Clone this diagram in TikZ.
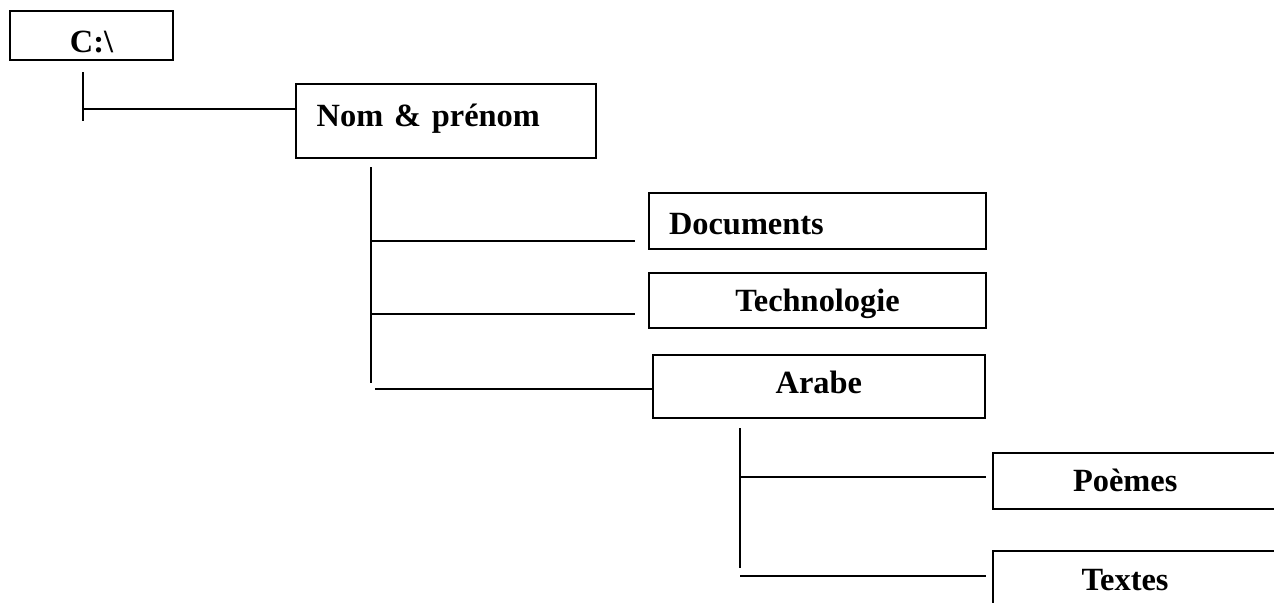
\documentclass[tikz,border=0pt]{standalone}
\usepackage{fontspec}
\setmainfont{Liberation Serif}
\begin{document}
\begin{tikzpicture}[x=0.5pt,y=-0.5pt,
  line width=1pt,
  box/.style={draw, rectangle, line width=1pt, inner ysep=2pt,
    font=\fontsize{16.2}{19}\selectfont\bfseries, text height=11pt, text depth=0pt},
  conn/.style={line width=1pt}]
\useasboundingbox (0,0) rectangle (1274,602);
\clip (0,0) rectangle (1274,602);
% boxes
\node[box, minimum width=81.5pt, minimum height=24.65pt, inner xsep=0pt] (root) at (91.5,35.3) {\raisebox{-3pt}{C:\textbackslash}};
\node[box, minimum height=37pt, inner xsep=10.5pt, text width=129pt, align=left] (nom) at (445.7,121) {\raisebox{3pt}{Nom \& prénom}};
\node[box, minimum height=28pt, inner xsep=10pt, text width=148.5pt, align=left] (doc) at (817.5,221) {\raisebox{-1pt}{Documents}};
\node[box, minimum width=168.5pt, minimum height=27.65pt] (tech) at (817.5,300.4) {Technologie};
\node[box, minimum width=166.2pt, minimum height=31.5pt] (arabe) at (818.9,386.5) {\raisebox{2pt}{Arabe}};
\node[box, minimum height=28.15pt, inner xsep=40.15pt, text width=73.35pt, align=left] (poemes) at (1146.35,480.85) {Poèmes};
\node[box, minimum height=28.15pt, inner xsep=44.5pt, text width=64.8pt, align=left] (textes) at (1146.35,579) {Textes};
% trunk from C:\
\coordinate (t1a) at (82.7,72);
\coordinate (t1b) at (82.7,121);
\coordinate (h1) at (82.7,109);
\draw[conn] (t1a) -- (t1b);
\draw[conn] (h1) -- (h1 -| nom.west);
% trunk from Nom & prenom
\coordinate (t2a) at (370.7,167);
\coordinate (t2b) at (370.7,383);
\coordinate (h2a) at (370.7,240.7);
\coordinate (e2a) at (635,240.7);
\coordinate (h2b) at (370.7,313.5);
\coordinate (e2b) at (635,313.5);
\coordinate (h2c) at (375,389);
\draw[conn] (t2a) -- (t2b);
\draw[conn] (h2a) -- (e2a);
\draw[conn] (h2b) -- (e2b);
\draw[conn] (h2c) -- (h2c -| arabe.west);
% trunk from Arabe
\coordinate (t3a) at (740,428);
\coordinate (t3b) at (740,568);
\coordinate (h3a) at (740,477);
\coordinate (e3a) at (985.7,477);
\coordinate (h3b) at (740,575.7);
\coordinate (e3b) at (985.7,575.7);
\draw[conn] (t3a) -- (t3b);
\draw[conn] (h3a) -- (e3a);
\draw[conn] (h3b) -- (e3b);
\end{tikzpicture}
\end{document}
